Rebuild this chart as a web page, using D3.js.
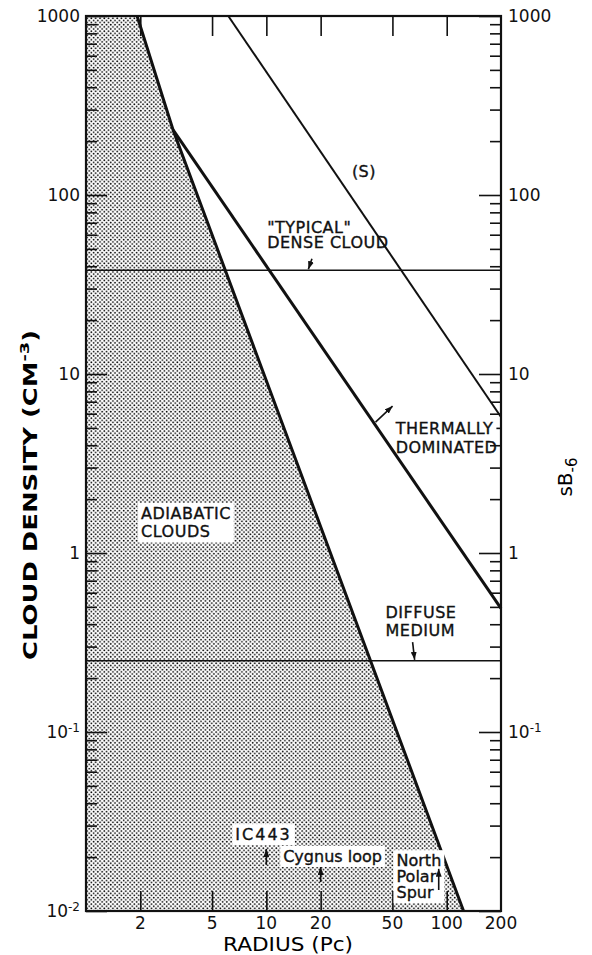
<!DOCTYPE html>
<html lang="en">
<head>
<meta charset="UTF-8">
<title>Cloud density vs radius</title>
<script src="https://d3js.org/d3.v7.min.js"></script>
<style>
  body { margin: 0; background: #fff; }
  svg { display: block; font-family: "DejaVu Sans", sans-serif; }
  .tick-lbl { font-size: 17px; fill: #111; }
  .note { font-size: 16px; fill: #111; }
  .axis path { display: none; }
  .axis line { stroke: #111; stroke-width: 1.6; }
</style>
</head>
<body>
<svg id="chart" width="592" height="955"></svg>
<script>
// axis ticks
const radiusTicks = [2, 5, 10, 20, 50, 100, 200];
const densityTicks = [1e-2, 1e-1, 1, 10, 100, 1000];
const rightTicks = [1e-1, 1, 10, 100, 1000];

// curves as [radius (pc), density (cm^-3)]
const adiabaticEdge = [[1.92, 1000], [3.04, 231], [124, 0.01]];
const thermalLine = [[3.04, 231], [200, 0.49]];
const sLine = [[6.15, 1000], [200, 5.75]];

// reference densities
const denseCloud = 38;
const diffuseMedium = 0.25;

const svg = d3.select("#chart");
const x = d3.scaleLog().domain([1, 200]).range([86, 501]);
const y = d3.scaleLog().domain([0.01, 1000]).range([911, 16]);

// dotted fill
const defs = svg.append("defs");
const pat = defs.append("pattern")
  .attr("id", "dots").attr("patternUnits", "userSpaceOnUse")
  .attr("width", 4.3).attr("height", 4.3);
pat.append("circle").attr("cx", 1.1).attr("cy", 1.1).attr("r", 0.9).attr("fill", "#000");
pat.append("circle").attr("cx", 3.25).attr("cy", 3.25).attr("r", 0.9).attr("fill", "#000");

defs.append("marker")
  .attr("id", "head").attr("markerUnits", "userSpaceOnUse")
  .attr("viewBox", "0 -3 8 6").attr("refX", 8).attr("refY", 0)
  .attr("markerWidth", 8).attr("markerHeight", 6).attr("orient", "auto")
  .append("path").attr("d", "M0,-3L8,0L0,3Z").attr("fill", "#111");

const line = d3.line().x(d => x(d[0])).y(d => y(d[1]));

// shaded adiabatic region
const region = [[1, 1000], ...adiabaticEdge, [1, 0.01]];
svg.append("path").attr("d", line(region) + "Z").attr("fill", "url(#dots)");

// horizontal reference lines
[denseCloud, diffuseMedium].forEach(v => {
  svg.append("line")
    .attr("x1", x(1)).attr("x2", x(200))
    .attr("y1", y(v)).attr("y2", y(v))
    .attr("stroke", "#111").attr("stroke-width", 1.5);
});

svg.append("path").attr("d", line(adiabaticEdge))
  .attr("fill", "none").attr("stroke", "#111").attr("stroke-width", 3);
svg.append("path").attr("d", line(thermalLine))
  .attr("fill", "none").attr("stroke", "#111").attr("stroke-width", 3);
svg.append("path").attr("d", line(sLine))
  .attr("fill", "none").attr("stroke", "#111").attr("stroke-width", 2);

// minor ticks for the log density axes
const minor = [];
for (let e = -2; e < 3; e++) for (let m = 2; m <= 9; m++) minor.push(m * Math.pow(10, e));

const gAx = svg.append("g");
gAx.append("g").attr("class", "axis").attr("transform", "translate(86,0)")
  .call(d3.axisLeft(y).tickValues(densityTicks).tickSize(-21).tickFormat(""));
gAx.append("g").attr("class", "axis").attr("transform", "translate(86,0)")
  .call(d3.axisLeft(y).tickValues(minor).tickSize(-11).tickFormat(""));
gAx.append("g").attr("class", "axis").attr("transform", "translate(501,0)")
  .call(d3.axisRight(y).tickValues(densityTicks).tickSize(-22).tickFormat(""));
gAx.append("g").attr("class", "axis").attr("transform", "translate(501,0)")
  .call(d3.axisRight(y).tickValues(minor).tickSize(-11).tickFormat(""));
gAx.append("g").attr("class", "axis").attr("transform", "translate(0,911)")
  .call(d3.axisBottom(x).tickValues(radiusTicks.slice(0, -1)).tickSize(-20).tickFormat(""));
gAx.append("g").attr("class", "axis").attr("transform", "translate(0,16)")
  .call(d3.axisTop(x).tickValues(radiusTicks.slice(0, -1)).tickSize(-20).tickFormat(""));

// frame
svg.append("rect").attr("x", 86).attr("y", 16).attr("width", 415).attr("height", 895)
  .attr("fill", "none").attr("stroke", "#111").attr("stroke-width", 2.2);

// tick labels
function powLabel(sel, v) {
  const e = Math.round(Math.log10(v));
  if (e >= 0) { sel.text(String(v)); return; }
  sel.append("tspan").text("10");
  sel.append("tspan").attr("font-size", "12px").attr("dy", "-0.55em").text("-" + (-e));
}
densityTicks.forEach(v => {
  const t = svg.append("text").attr("class", "tick-lbl")
    .attr("x", 80).attr("y", y(v)).attr("dy", "0.36em").attr("text-anchor", "end");
  powLabel(t, v);
});
rightTicks.forEach(v => {
  const t = svg.append("text").attr("class", "tick-lbl")
    .attr("x", 508).attr("y", y(v)).attr("dy", "0.36em");
  powLabel(t, v);
});
radiusTicks.forEach(v => {
  svg.append("text").attr("class", "tick-lbl")
    .attr("x", x(v)).attr("y", 929).attr("text-anchor", "middle").text(v);
});

// axis titles
svg.append("text").attr("x", 288).attr("y", 951).attr("text-anchor", "middle")
  .attr("font-size", "19px").attr("textLength", 130).attr("lengthAdjust", "spacingAndGlyphs")
  .text("RADIUS (Pc)");

const yt = svg.append("text").attr("transform", "translate(37,495) rotate(-90)")
  .attr("text-anchor", "middle").attr("font-size", "19px").attr("font-weight", "bold")
  .attr("textLength", 330).attr("lengthAdjust", "spacingAndGlyphs");
yt.append("tspan").text("CLOUD DENSITY (CM");
yt.append("tspan").attr("font-size", "13px").attr("dy", "-0.6em").text("-3");
yt.append("tspan").attr("dy", "0.4em").text(")");

const rt = svg.append("text").attr("transform", "translate(572,477) rotate(-90)")
  .attr("text-anchor", "middle").attr("font-size", "20px");
rt.append("tspan").text("sB");
rt.append("tspan").attr("font-size", "15px").attr("dy", "0.35em").text("-6");

// annotations: lines, radius, density of first baseline, size, line step, boxed
const notes = [
  [["(S)"], 29.8, 126, 16, 0, false],
  [["\"TYPICAL\"", "DENSE CLOUD"], 10.1, 61, 15.5, 15, false],
  [["ADIABATIC", "CLOUDS"], 2.02, 1.55, 16, 18.5, "all"],
  [["THERMALLY", "DOMINATED"], 52.1, 4.6, 16, 18.5, "first"],
  [["DIFFUSE", "MEDIUM"], 45.8, 0.434, 16, 18.5, false],
  [["IC443"], 6.73, 0.0249, 16, 0, "all"],
  [["Cygnus loop"], 12.4, 0.0188, 14, 0, "all"],
  [["North", "Polar", "Spur"], 52.7, 0.0178, 13.5, 16, "all"]
];
const gBox = svg.append("g");
notes.forEach(([rows, r, d, fs, step, boxed]) => {
  const caps = rows[0] === rows[0].toUpperCase();
  const t = svg.append("text").attr("class", "note")
    .attr("x", x(r)).attr("y", y(d)).attr("font-size", fs + "px")
    .attr("stroke", "#111").attr("stroke-width", 0.35)
    .attr("letter-spacing", rows[0] === "IC443" ? 2 : (caps ? 0.5 : 0));
  const spans = rows.map((s, i) => t.append("tspan")
    .attr("x", x(r)).attr("dy", i === 0 ? 0 : step).text(s));
  if (boxed) {
    const b = boxed === "first" ? spans[0].node().getBBox() : t.node().getBBox();
    gBox.append("rect").attr("x", b.x - 3).attr("y", b.y - 1)
      .attr("width", b.width + 6).attr("height", b.height + 2).attr("fill", "#fff");
  }
});

// arrows [from, to]
const arrows = [
  [[17.9, 44], [17.1, 38.5]],
  [[40.3, 5.39], [50.1, 6.62]],
  [[64.7, 0.318], [66.4, 0.253]],
  [[10, 0.0181], [10, 0.0222]],
  [[20, 0.0145], [20, 0.0176]],
  [[90.3, 0.0131], [90.3, 0.0172]]
];
arrows.forEach(a => {
  svg.append("path").attr("d", line(a))
    .attr("stroke", "#111").attr("stroke-width", 1.6).attr("marker-end", "url(#head)");
});
</script>
</body>
</html>
